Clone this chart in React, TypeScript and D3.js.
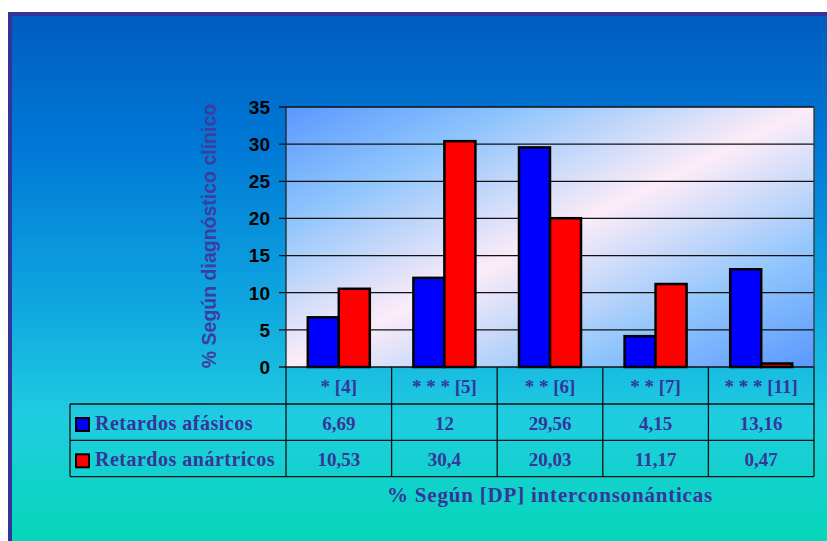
import React from "react";
import * as d3 from "d3";

const categories = ["* [4]", "* * * [5]", "* * [6]", "* * [7]", "* * * [11]"];
const seriesNames = ["Retardos afásicos", "Retardos anártricos"];
const afasicos = [6.69, 12, 29.56, 4.15, 13.16];
const anartricos = [10.53, 30.4, 20.03, 11.17, 0.47];
const afasicosLabels = ["6,69", "12", "29,56", "4,15", "13,16"];
const anartricosLabels = ["10,53", "30,4", "20,03", "11,17", "0,47"];
const yTicks = [0, 5, 10, 15, 20, 25, 30, 35];
const seriesColors = ["#0000ff", "#ff0000"];

const W = 827;
const H = 541;
const plot = { left: 286, right: 814, top: 107, bottom: 367 };
const rowH = 36.3;
const tableLeft = 70;
const textColor = "#35359a";
const serif = "'Liberation Serif', 'DejaVu Serif', serif";
const sans = "'Liberation Sans', Arial, sans-serif";

export default function App() {
  const x = d3.scaleBand<string>().domain(categories).range([plot.left, plot.right]);
  const y = d3.scaleLinear().domain([0, 35]).range([plot.bottom, plot.top]);
  const barW = 31;
  const series = [afasicos, anartricos];
  const labels = [afasicosLabels, anartricosLabels];

  const row0Bottom = plot.bottom + 37;
  const rowTops = [row0Bottom, row0Bottom + rowH];
  const tableBottom = row0Bottom + 2 * rowH;

  return (
    <svg
      width={W}
      height={H}
      style={{ position: "absolute", left: 0, top: 0, display: "block" }}
    >
      <defs>
        <linearGradient id="bg" x1="0" y1="0" x2="0" y2="1">
          <stop offset="0" stopColor="#005cbf" />
          <stop offset="0.25" stopColor="#0079d6" />
          <stop offset="0.55" stopColor="#10a8e0" />
          <stop offset="0.75" stopColor="#1fcde0" />
          <stop offset="1" stopColor="#02d8b4" />
        </linearGradient>
        <linearGradient id="plotBg" x1="0" y1="0" x2="1" y2="1">
          <stop offset="0" stopColor="#5a98ff" />
          <stop offset="0.22" stopColor="#8ec4fc" />
          <stop offset="0.5" stopColor="#fcecf8" />
          <stop offset="0.78" stopColor="#8ec4fc" />
          <stop offset="1" stopColor="#5a98ff" />
        </linearGradient>
      </defs>

      {/* slide panel */}
      <rect x={0} y={0} width={W} height={H} fill="#ffffff" />
      <rect x={8} y={13} width={W} height={H} fill="url(#bg)" />
      <line x1={8} y1={14} x2={W} y2={14} stroke="#333399" strokeWidth={4} />
      <line x1={10} y1={12} x2={10} y2={H} stroke="#333399" strokeWidth={4} />

      {/* plot area */}
      <rect
        x={plot.left}
        y={plot.top}
        width={plot.right - plot.left}
        height={plot.bottom - plot.top}
        fill="url(#plotBg)"
      />
      {yTicks.map((t) => (
        <g key={t}>
          <line
            x1={plot.left - 7}
            x2={plot.right}
            y1={y(t)}
            y2={y(t)}
            stroke="#111"
            strokeWidth={1.3}
          />
          <text
            x={270}
            y={y(t)}
            dy="0.36em"
            textAnchor="end"
            fontFamily={sans}
            fontWeight="bold"
            fontSize={19}
            fill="#000"
          >
            {t}
          </text>
        </g>
      ))}
      <line x1={plot.left} x2={plot.left} y1={plot.top} y2={plot.bottom} stroke="#222" strokeWidth={1.3} />
      <line x1={plot.right} x2={plot.right} y1={plot.top} y2={plot.bottom} stroke="#333" strokeWidth={1.3} />

      {/* bars */}
      {categories.map((c, i) => {
        const cx = (x(c) as number) + x.bandwidth() / 2;
        return series.map((vals, s) => (
          <rect
            key={`${c}-${s}`}
            x={cx - barW + s * barW}
            y={y(vals[i])}
            width={barW}
            height={y(0) - y(vals[i])}
            fill={seriesColors[s]}
            stroke="#000"
            strokeWidth={2.5}
          />
        ));
      })}

      {/* y axis title */}
      <text
        transform={`translate(216, ${(plot.top + plot.bottom) / 2 - 1}) rotate(-90)`}
        textAnchor="middle"
        fontFamily={sans}
        fontWeight="bold"
        fontSize={19.5}
        fill="#3d3da0"
      >
        % Según diagnóstico clínico
      </text>

      {/* data table */}
      <g stroke="#111" strokeWidth={1.3} fill="none">
        <line x1={tableLeft} x2={plot.right} y1={row0Bottom} y2={row0Bottom} />
        <line x1={tableLeft} x2={plot.right} y1={row0Bottom + rowH} y2={row0Bottom + rowH} />
        <line x1={tableLeft} x2={plot.right} y1={tableBottom} y2={tableBottom} />
        <line x1={tableLeft} x2={tableLeft} y1={row0Bottom} y2={tableBottom} />
        {categories.map((c) => (
          <line key={c} x1={x(c)} x2={x(c)} y1={plot.bottom} y2={tableBottom} />
        ))}
        <line x1={plot.right} x2={plot.right} y1={plot.bottom} y2={tableBottom} />
      </g>

      {categories.map((c) => (
        <text
          key={c}
          x={(x(c) as number) + x.bandwidth() / 2}
          y={plot.bottom + 26}
          textAnchor="middle"
          fontFamily={serif}
          fontWeight="bold"
          fontSize={19}
          fill={textColor}
        >
          {c}
        </text>
      ))}

      {seriesNames.map((name, s) => (
        <g key={name}>
          <rect
            x={76}
            y={rowTops[s] + 14}
            width={13}
            height={13}
            fill={seriesColors[s]}
            stroke="#000"
            strokeWidth={2}
          />
          <text
            x={95}
            y={rowTops[s] + 26}
            fontFamily={serif}
            fontWeight="bold"
            fontSize={20}
            letterSpacing={0.5}
            fill={textColor}
          >
            {name}
          </text>
          {categories.map((c, i) => (
            <text
              key={c}
              x={(x(c) as number) + x.bandwidth() / 2}
              y={rowTops[s] + 26}
              textAnchor="middle"
              fontFamily={serif}
              fontWeight="bold"
              fontSize={19}
              fill={textColor}
            >
              {labels[s][i]}
            </text>
          ))}
        </g>
      ))}

      {/* x axis title */}
      <text
        x={550}
        y={502}
        textAnchor="middle"
        fontFamily={serif}
        fontWeight="bold"
        fontSize={21}
        letterSpacing={0.8}
        fill={textColor}
      >
        % Según [DP] interconsonánticas
      </text>
    </svg>
  );
}
